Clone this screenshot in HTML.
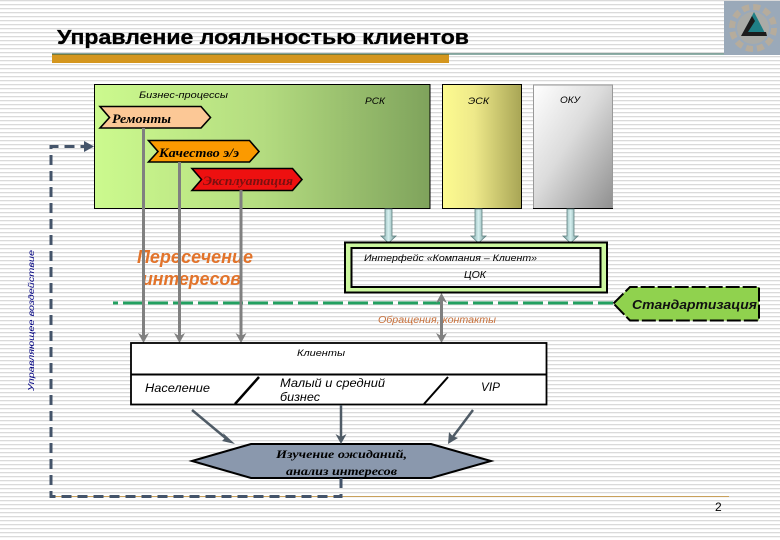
<!DOCTYPE html>
<html><head><meta charset="utf-8"><style>
html,body{margin:0;padding:0;width:780px;height:540px;overflow:hidden;background:#fff}
svg{display:block}
text{font-family:"Liberation Sans",sans-serif}
.s{font-family:"Liberation Serif",serif;font-style:italic;font-weight:bold}
.i{font-style:italic}
</style></head><body>
<svg xmlns="http://www.w3.org/2000/svg" width="780" height="540" viewBox="0 0 780 540">
<defs>
<pattern id="st" width="4" height="4" patternUnits="userSpaceOnUse"><rect width="4" height="4" fill="#fff"/><rect y="0" width="4" height="1.3" fill="#dadada"/></pattern>
<linearGradient id="g1"><stop offset="0" stop-color="#ccfa8e"/><stop offset=".5" stop-color="#b4dc80"/><stop offset="1" stop-color="#7fa35c"/></linearGradient>
<linearGradient id="g2"><stop offset="0" stop-color="#fdfb90"/><stop offset=".4" stop-color="#eee98a"/><stop offset="1" stop-color="#a8a555"/></linearGradient>
<linearGradient id="g3" x1="0" y1="0" x2="1" y2="1"><stop offset="0" stop-color="#ffffff"/><stop offset=".45" stop-color="#dcdcdc"/><stop offset="1" stop-color="#8f8f8f"/></linearGradient>
<linearGradient id="g4"><stop offset="0" stop-color="#6f9a9a"/><stop offset=".5" stop-color="#d5f0f0"/><stop offset="1" stop-color="#6a9090"/></linearGradient>
</defs>
<rect width="780" height="540" fill="url(#st)"/>

<!-- header -->
<text x="57" y="44" font-size="20" font-weight="bold" stroke="#000" stroke-width=".3" textLength="412" lengthAdjust="spacingAndGlyphs">Управление лояльностью клиентов</text>
<rect x="52" y="54" width="397" height="9" fill="#d4961e"/>
<rect x="52" y="53.5" width="672" height="1" fill="#1f5f52"/>
<rect x="724" y="1" width="56" height="54" fill="#9aa9b9"/>
<circle cx="753" cy="28" r="21" fill="none" stroke="#c4ae8c" stroke-width="6" stroke-dasharray="7 4" opacity=".65"/>
<circle cx="753" cy="28" r="16" fill="#b0aca0" opacity=".7"/>
<polygon points="754,12 766,35 742,35" fill="#1f7f86"/>
<polygon points="741,36 752,16 755,21 748,32 766,32 767,36" fill="#1c1c1c"/>

<!-- top boxes -->
<rect x="94.5" y="84.5" width="335.5" height="124" fill="url(#g1)" stroke="#000"/>
<rect x="442.5" y="84.5" width="79" height="124" fill="url(#g2)" stroke="#000"/>
<rect x="533.5" y="85" width="79" height="123.5" fill="url(#g3)" stroke="#999"/>
<line x1="533" y1="208.5" x2="613" y2="208.5" stroke="#000"/>
<text class="i" x="139" y="98" font-size="9.5" textLength="89" lengthAdjust="spacingAndGlyphs">Бизнес-процессы</text>
<text class="i" x="365" y="104" font-size="9.5" textLength="20" lengthAdjust="spacingAndGlyphs">РСК</text>
<text class="i" x="468" y="104" font-size="9.5" textLength="21" lengthAdjust="spacingAndGlyphs">ЭСК</text>
<text class="i" x="560" y="103" font-size="9.5" textLength="20" lengthAdjust="spacingAndGlyphs">ОКУ</text>

<!-- block arrows down -->
<g fill="url(#g4)" stroke="#5f7f7f" stroke-width=".8">
<polygon points="385,209 392,209 392,236 396,236 388.5,243 381,236 385,236"/>
<polygon points="475,209 482,209 482,236 486,236 478.5,243 471,236 475,236"/>
<polygon points="567,209 574,209 574,236 578,236 570.5,243 563,236 567,236"/>
</g>

<!-- chevrons -->
<g stroke="#000" stroke-width="1.6">
<polygon points="100,106.5 201,106.5 210.5,117.5 201,128 100,128 109.5,117.5" fill="#fcc896"/>
<polygon points="148.5,140.5 249.5,140.5 259,151.5 249.5,162 148.5,162 158,151.5" fill="#fb9a00"/>
<polygon points="192,168.5 292.5,168.5 302,179.5 292.5,190.5 192,190.5 201.5,179.5" fill="#ee1010"/>
</g>
<text class="s" x="112" y="123" font-size="13" textLength="59" lengthAdjust="spacingAndGlyphs">Ремонты</text>
<text class="s" x="159" y="157" font-size="12.5" textLength="80" lengthAdjust="spacingAndGlyphs">Качество э/э</text>
<text class="s" x="203" y="185" font-size="12.5" fill="#7a1010" textLength="90" lengthAdjust="spacingAndGlyphs">Эксплуатация</text>

<!-- orange text -->
<text class="i" x="137" y="263" font-size="18.5" font-weight="bold" fill="#e2732a" textLength="116" lengthAdjust="spacingAndGlyphs">Пересечение</text>
<text class="i" x="142" y="285" font-size="18.5" font-weight="bold" fill="#e2732a" textLength="99" lengthAdjust="spacingAndGlyphs">интересов</text>

<!-- green dashed -->
<line x1="113" y1="303" x2="118" y2="303" stroke="#22a060" stroke-width="3"/>
<line x1="123" y1="303" x2="613" y2="303" stroke="#22a060" stroke-width="3" stroke-dasharray="20 5"/>

<!-- gray arrows -->
<g stroke="#808080" stroke-width="3" fill="none">
<line x1="143.5" y1="128" x2="143.5" y2="338"/>
<line x1="179.5" y1="162" x2="179.5" y2="338"/>
<line x1="241" y1="190" x2="241" y2="338"/>
<line x1="441.5" y1="298" x2="441.5" y2="338"/>
</g>
<g fill="#808080">
<polygon points="138,333 143.5,336 149,333 143.5,343"/>
<polygon points="174,333 179.5,336 185,333 179.5,343"/>
<polygon points="235.5,333 241,336 246.5,333 241,343"/>
<polygon points="436,333 441.5,336 447,333 441.5,343"/>
<polygon points="436,303 441.5,300 447,303 441.5,293"/>
</g>

<!-- interface box -->
<rect x="345" y="242.5" width="262" height="50" fill="#ccf79f" stroke="#000" stroke-width="2"/>
<rect x="351.5" y="248" width="249" height="39" fill="url(#st)" stroke="#000" stroke-width="2"/>
<text class="i" x="364" y="261" font-size="9.5" textLength="173" lengthAdjust="spacingAndGlyphs">Интерфейс «Компания – Клиент»</text>
<text class="i" x="464" y="278" font-size="10" textLength="22" lengthAdjust="spacingAndGlyphs">ЦОК</text>

<!-- standardization -->
<polygon points="613.5,303.5 630,287 759,287 759,320.5 630,320.5" fill="#90d24e" stroke="#000" stroke-width="2" stroke-dasharray="14 3"/>
<text class="i" x="632" y="309" font-size="13" font-weight="bold" fill="#111" textLength="125" lengthAdjust="spacingAndGlyphs">Стандартизация</text>
<text class="i" x="378" y="323" font-size="10" fill="#c8703a" textLength="118" lengthAdjust="spacingAndGlyphs">Обращения, контакты</text>

<!-- clients -->
<rect x="131" y="343" width="415.5" height="61.5" fill="#fff" stroke="#000" stroke-width="1.8"/>
<line x1="131" y1="374.5" x2="546" y2="374.5" stroke="#000" stroke-width="2"/>
<line x1="235" y1="404" x2="259" y2="377" stroke="#000" stroke-width="2.5"/>
<line x1="424" y1="404" x2="448" y2="377" stroke="#000" stroke-width="2"/>
<text class="i" x="297" y="356" font-size="9.5" textLength="48" lengthAdjust="spacingAndGlyphs">Клиенты</text>
<text class="i" x="145" y="392" font-size="11.5" textLength="65" lengthAdjust="spacingAndGlyphs">Население</text>
<text class="i" x="280" y="387" font-size="11.5" textLength="105" lengthAdjust="spacingAndGlyphs">Малый и средний</text>
<text class="i" x="280" y="401" font-size="11.5" textLength="40" lengthAdjust="spacingAndGlyphs">бизнес</text>
<text class="i" x="481" y="391" font-size="11.5" textLength="19" lengthAdjust="spacingAndGlyphs">VIP</text>

<!-- lower hexagon -->
<polygon points="192,461 251,444 431,444 491,461 431,478 251,478" fill="#8a98ad" stroke="#000" stroke-width="2"/>
<text class="s" x="276" y="458" font-size="12" textLength="131" lengthAdjust="spacingAndGlyphs">Изучение ожиданий,</text>
<text class="s" x="286" y="475" font-size="12" textLength="111" lengthAdjust="spacingAndGlyphs">анализ интересов</text>

<!-- dark arrows -->
<g stroke="#4f5b66" stroke-width="2.5" fill="none">
<line x1="192" y1="410" x2="228" y2="440"/>
<line x1="341" y1="405" x2="341" y2="438"/>
<line x1="473" y1="410" x2="452" y2="438"/>
</g>
<g fill="#4f5b66">
<polygon points="235,444 222,441 225,438 223,433"/>
<polygon points="341,444 335.5,434 341,437 346.5,434"/>
<polygon points="448,444 449,432 452.5,436 458,438"/>
</g>

<!-- bottom rule -->
<line x1="52" y1="496.5" x2="729" y2="496.5" stroke="#c9a15c" stroke-width="1"/>

<!-- dashed feedback -->
<polyline points="341,478 341,496.5 51,496.5 51,146.5 88,146.5" fill="none" stroke="#44546a" stroke-width="3" stroke-dasharray="10 6"/>
<polygon points="84,141 94,146.5 84,152" fill="#44546a"/>

<text class="i" transform="translate(34,391) rotate(-90)" font-size="8.5" fill="#000080" textLength="141" lengthAdjust="spacingAndGlyphs">Управляющее воздействие</text>
<text x="715" y="511" font-size="12">2</text>
</svg>
</body></html>
